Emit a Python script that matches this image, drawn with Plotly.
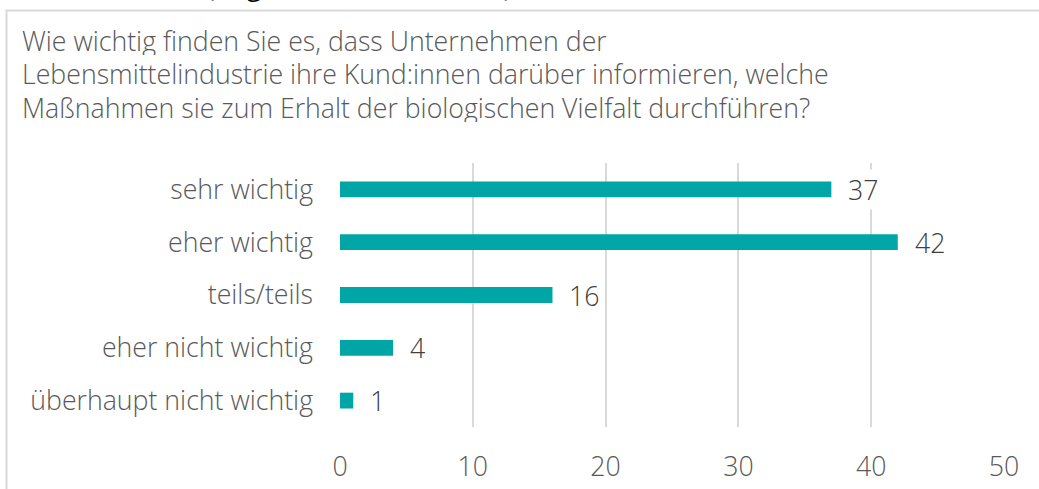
import plotly.graph_objects as go

categories = ["sehr wichtig", "eher wichtig", "teils/teils", "eher nicht wichtig", "überhaupt nicht wichtig"]
values = [37, 42, 16, 4, 1]
x_ticks = [0, 10, 20, 30, 40, 50]
title_lines = [
    "Wie wichtig finden Sie es, dass Unternehmen der",
    "Lebensmittelindustrie ihre Kund:innen darüber informieren, welche",
    "Maßnahmen sie zum Erhalt der biologischen Vielfalt durchführen?",
]
top_caption = "(Angaben in %, n = 1.000)"

W, H = 1039, 489
L, R, T, B = 340, 35, 163, 62
pw, ph = W - L - R, H - T - B

def px_to_paper_x(px):
    return (px - L) / pw

def px_to_paper_y(py):
    return (H - B - py) / ph

FONT = "Open Sans"
BAR = "#00A6A6"
FS = 26.7

fig = go.Figure(go.Bar(
    x=values, y=categories, orientation="h",
    marker=dict(color=BAR, line=dict(width=0)),
    width=0.3, hoverinfo="skip",
))

annotations = []
for v, c in zip(values, categories):
    annotations.append(dict(
        x=v, y=c, xref="x", yref="y", text=str(v), showarrow=False,
        xanchor="left", yanchor="middle", xshift=15, bgcolor="white",
        font=dict(family=FONT, size=FS, color="#404040", weight=300),
    ))

title_y = [40, 74, 107]
for line, py in zip(title_lines, title_y):
    annotations.append(dict(
        x=px_to_paper_x(21), y=px_to_paper_y(py), xref="paper", yref="paper",
        text=line, showarrow=False, xanchor="left", yanchor="middle",
        height=29, borderpad=0,
        font=dict(family=FONT, size=FS, color="#595959", weight=300),
    ))

annotations.append(dict(
    x=px_to_paper_x(205), y=px_to_paper_y(6), xref="paper", yref="paper",
    text=top_caption, showarrow=False, xanchor="left", yanchor="bottom",
    font=dict(family=FONT, size=26, color="#000000"),
))

fig.update_layout(
    width=W, height=H,
    margin=dict(l=L, r=R, t=T, b=B, autoexpand=False),
    paper_bgcolor="white", plot_bgcolor="white",
    showlegend=False,
    annotations=annotations,
    shapes=[dict(
        type="rect", xref="paper", yref="paper",
        x0=px_to_paper_x(6.5), x1=px_to_paper_x(W + 20),
        y0=px_to_paper_y(H + 20), y1=px_to_paper_y(10.5),
        line=dict(color="#d9d9d9", width=2), layer="below",
    )],
    xaxis=dict(
        range=[0, 50], tickvals=x_ticks, showgrid=True,
        gridcolor="#d9d9d9", gridwidth=1.5, zeroline=False,
        showline=False, ticks="", ticklabelstandoff=21,
        tickfont=dict(family=FONT, size=FS, color="#595959", weight=300),
        fixedrange=True,
    ),
    yaxis=dict(
        categoryorder="array", categoryarray=categories[::-1],
        range=[-0.5, 4.5], showgrid=False, zeroline=False, showline=False,
        ticks="", ticklabelstandoff=26,
        tickfont=dict(family=FONT, size=FS, color="#595959", weight=300),
        fixedrange=True,
    ),
)

fig.write_html(
    "out.html",
    config={"displayModeBar": False},
    post_script="document.body.style.margin='0';document.body.style.padding='0';",
)
